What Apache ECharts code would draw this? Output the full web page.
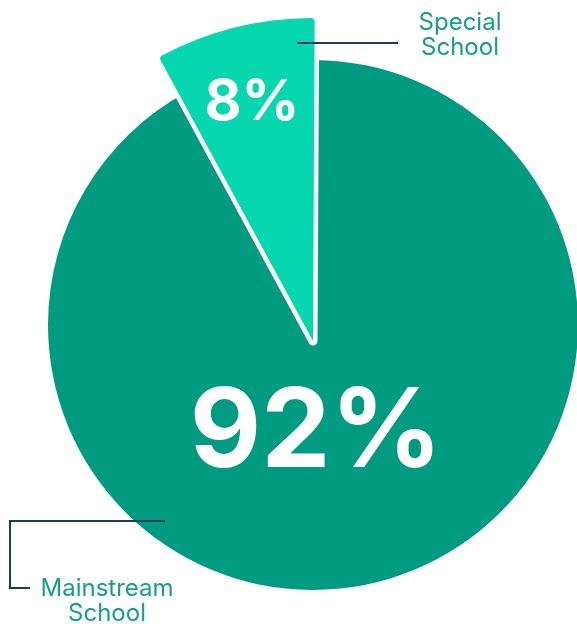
<!DOCTYPE html>
<html>
<head>
<meta charset="utf-8">
<script src="https://cdn.jsdelivr.net/npm/echarts@6/dist/echarts.min.js"></script>
<style>
html,body{margin:0;padding:0;background:#fff;}
#chart{width:577px;height:624px;}
</style>
</head>
<body>
<div id="chart"></div>
<script>
// ---- data ----
const categories = ['Special School', 'Mainstream School'];
const shares = [8, 92];
const nameLabels = ['Special\nSchool', 'Mainstream\nSchool'];

// ---- styles ----
const sliceColors = ['#07D7AF', '#019B82'];
const textTeal = '#16A086';
const lineNavy = '#1E3A5C';
const clear = 'rgba(0,0,0,0)';
const FONT = 'Inter, "Noto Sans", sans-serif';
const START = 118.5;

const chart = echarts.init(document.getElementById('chart'), null, {renderer: 'canvas'});

function items(visibleIndex, style, label) {
  return categories.map((name, i) => {
    const on = visibleIndex === i;
    return {
      name: name,
      value: shares[i],
      itemStyle: on ? style(i) : {color: clear, borderWidth: 0},
      label: on && label ? label : {show: false},
      labelLine: {show: false}
    };
  });
}

function pie(center, radius, data, extra) {
  return Object.assign({
    type: 'pie',
    center: center,
    radius: radius,
    startAngle: START,
    clockwise: true,
    avoidLabelOverlap: false,
    silent: true,
    data: data
  }, extra || {});
}

const option = {
  animation: false,
  backgroundColor: '#fff',
  series: [
    // main disc
    pie([313, 325], 265,
      items(1, i => ({color: sliceColors[i], borderWidth: 0}),
        {show: true, position: 'inside', formatter: '{d}%',
         color: '#fff', fontFamily: FONT, fontWeight: 700, fontSize: 110}),
      {labelLayout: () => ({dx: -30, dy: -22})}),
    // white outline under the special wedge
    pie([313, 341], 323,
      items(0, () => ({color: '#fff', borderColor: '#fff', borderWidth: 9,
        borderJoin: 'round', borderRadius: 4}))),
    // special wedge
    pie([313, 341], 323,
      items(0, i => ({color: sliceColors[i], borderWidth: 0, borderRadius: 4}),
        {show: true, position: 'inside', formatter: '{d}%',
         color: '#fff', fontFamily: FONT, fontWeight: 700, fontSize: 57}),
      {labelLayout: () => ({dx: -21, dy: -79})}),
    // category name labels with leader lines
    pie([313, 325], 265,
      categories.map((name, i) => ({
        name: name,
        value: shares[i],
        itemStyle: {color: clear, borderWidth: 0},
        label: {
          show: true, position: 'outside',
          formatter: nameLabels[i],
          color: textTeal, fontFamily: FONT, fontWeight: 400, fontSize: 24,
          lineHeight: 25, align: 'center'
        },
        labelLine: {show: true, length: 10, length2: 10, smooth: false,
          lineStyle: {color: lineNavy, width: 2}}
      })),
      {
        z: 5,
        labelLayout: function (p) {
          if (p.dataIndex === 0) {
            return {x: 460, y: 35, align: 'center', verticalAlign: 'middle',
              labelLinePoints: [[297, 43], [398, 43]]};
          }
          return {x: 107, y: 601, align: 'center', verticalAlign: 'middle',
            labelLinePoints: [[165, 521], [10, 521], [10, 588], [30, 588]]};
        }
      })
  ]
};
chart.setOption(option);
</script>
</body>
</html>
